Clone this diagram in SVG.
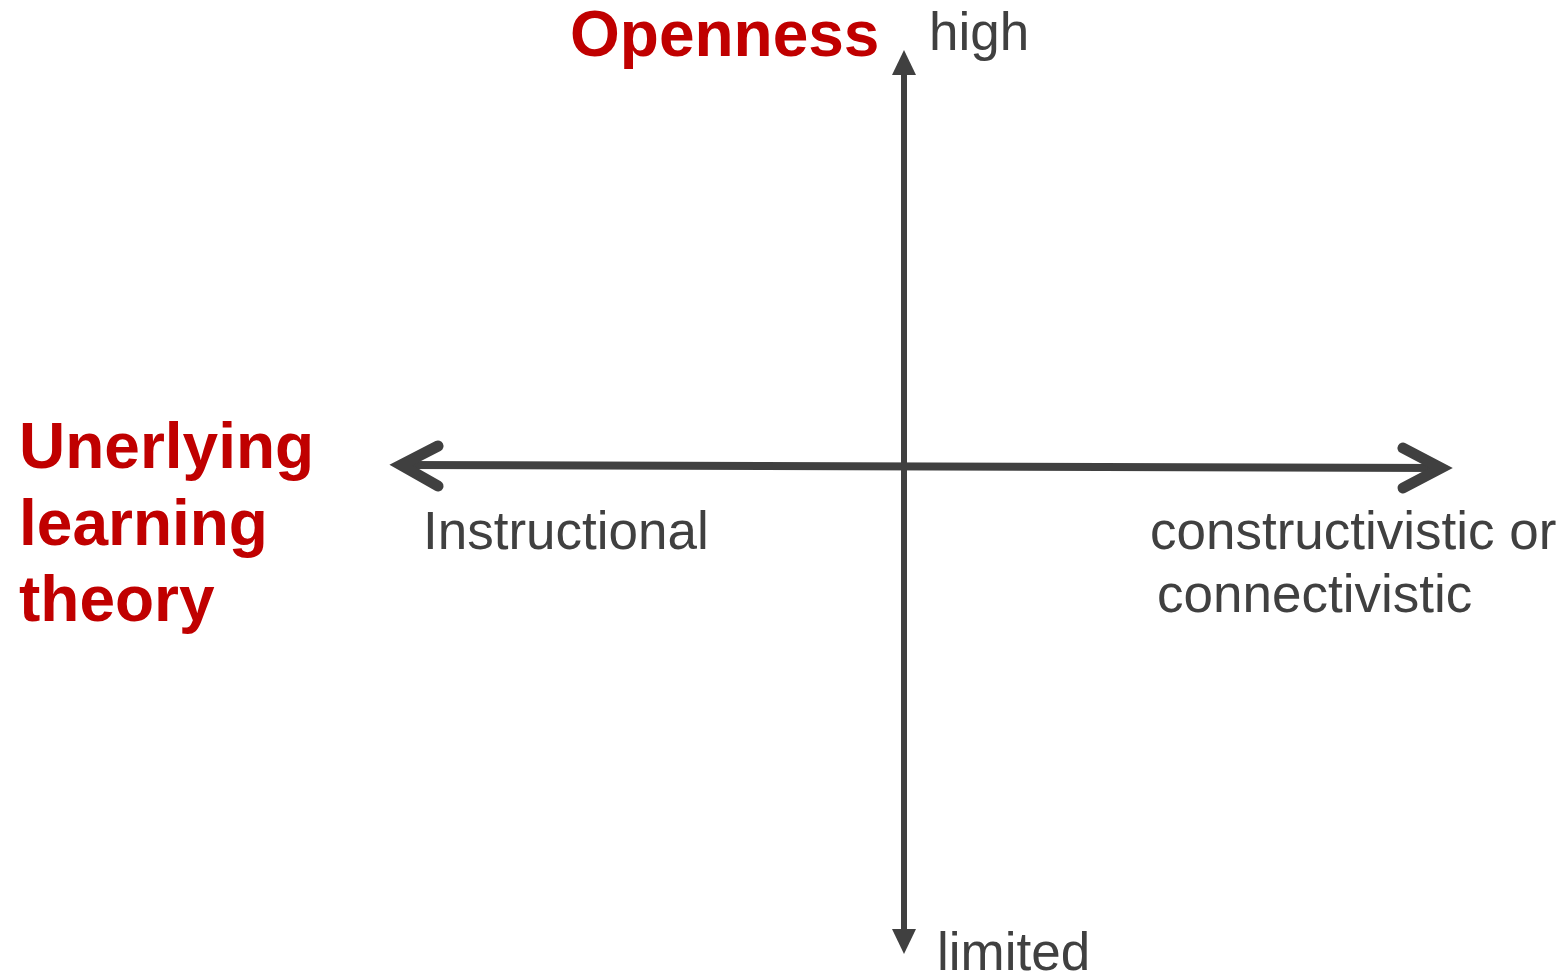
<svg xmlns="http://www.w3.org/2000/svg" width="1566" height="975" viewBox="0 0 1566 975">
<style>
.title{font-family:"Liberation Sans",Arial,sans-serif;font-weight:bold;font-size:64px;fill:#C00000}
.lbl{font-family:"Liberation Sans",Arial,sans-serif;font-size:53px;fill:#404040}
.ax{stroke:#404040;fill:none}
.head{fill:#404040}
</style>
<rect width="1566" height="975" fill="#fff"/>
<g id="connectors">
<line class="ax" x1="904" y1="70" x2="904" y2="933" stroke-width="6"/>
<polygon class="head" points="904,50 916,75 892,75"/>
<polygon class="head" points="904,954 916,929 892,929"/>
<line class="ax" x1="402" y1="465" x2="1440" y2="468" stroke-width="8"/>
<polyline class="ax" points="438,446 401,465 438,486" stroke-width="11" stroke-linecap="round"/>
<polyline class="ax" points="1403,448 1441,468 1403,488" stroke-width="11" stroke-linecap="round"/>
</g>
<g id="openness"><text class="title" x="570" y="56">Openness</text></g>
<g id="high"><text class="lbl" x="929" y="50">high</text></g>
<g id="theory"><text class="title" x="19" y="468">Unerlying</text><text class="title" x="19" y="545">learning</text><text class="title" x="19" y="621">theory</text></g>
<g id="instructional"><text class="lbl" x="423" y="549">Instructional</text></g>
<g id="constructivistic"><text class="lbl" x="1150" y="549">constructivistic or</text><text class="lbl" x="1157" y="612">connectivistic</text></g>
<g id="limited"><text class="lbl" x="937" y="970">limited</text></g>
</svg>
